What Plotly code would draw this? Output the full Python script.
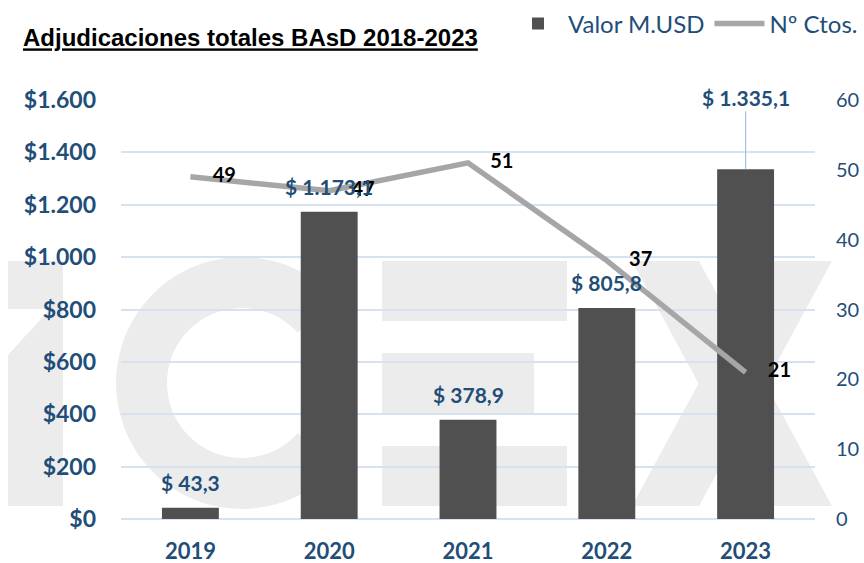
import numpy as np
import plotly.graph_objects as go

years = ["2019", "2020", "2021", "2022", "2023"]
valor_musd = [43.3, 1173.1, 378.9, 805.8, 1335.1]
num_ctos = [49, 47, 51, 37, 21]

BLUE = "#1f4e79"
BAR = "#505050"
LINE = "#a6a6a6"
GRID = "#d6e2f2"
WM = "#ececec"

W, H = 864, 563
ML, MR, MT, MB = 121, 49, 100, 44
PW, PH = W - ML - MR, H - MT - MB


def fmt_es(v):
    s = f"{v:,.1f}"
    return "$ " + s.replace(",", "X").replace(".", ",").replace("X", ".")


# pixel -> paper helpers for the background watermark
def px(x):
    return (x - ML) / PW


def py(y):
    return (H - MB - y) / PH


def poly(points):
    return "M " + " L ".join(f"{px(x):.4f},{py(y):.4f}" for x, y in points) + " Z"


fig = go.Figure()

fig.add_trace(go.Bar(
    x=years, y=valor_musd, name="Valor M.USD",
    marker=dict(color=BAR, line=dict(width=0)),
    hovertemplate="%{x}: %{y}<extra></extra>"
))

fig.add_trace(go.Scatter(
    x=years, y=num_ctos, name="Nº Ctos.", yaxis="y2",
    mode="lines+markers+text",
    line=dict(color=LINE, width=5.5),
    marker=dict(size=34, color="rgba(0,0,0,0)"),
    text=[str(v) for v in num_ctos],
    textposition="middle right",
    textfont=dict(family="Lato", size=20, color="black", weight="bold"),
    cliponaxis=False
))

# bar value labels (category axis -> annotations take the category index)
for i, v in enumerate(valor_musd):
    last = i == len(valor_musd) - 1
    fig.add_annotation(
        x=i, y=v, xref="x", yref="y",
        text=f"<b>{fmt_es(v)}</b>",
        font=dict(family="Lato", size=21, color=BLUE),
        showarrow=last, ax=0, ay=-72, arrowhead=0, arrowwidth=1.2,
        arrowcolor="#9dc3e6", standoff=0,
        yanchor="middle", yshift=0 if last else 25
    )

# ICEX watermark (background decoration)
shapes = []
shapes.append(dict(type="path", path=poly([(8, 261), (63, 261), (63, 506), (8, 506), (8, 355), (50, 309), (8, 309)])))
th = np.radians(np.linspace(42, 318, 60))
cx, cy, ro, ri = 242, 383, 126, 75
outer = [(cx + ro * np.cos(t), cy - ro * np.sin(t)) for t in th]
inner = [(cx + ri * np.cos(t), cy - ri * np.sin(t)) for t in th[::-1]]
shapes.append(dict(type="path", path=poly(outer + inner)))
shapes.append(dict(type="path", path=poly([(382, 261), (567, 261), (567, 321), (382, 321)])))
shapes.append(dict(type="path", path=poly([(382, 353), (534, 353), (534, 413), (382, 413)])))
shapes.append(dict(type="path", path=poly([(382, 446), (567, 446), (567, 506), (382, 506)])))
shapes.append(dict(type="path", path=poly([(632, 261), (699, 261), (832, 506), (765, 506)])))
shapes.append(dict(type="path", path=poly([(765, 261), (832, 261), (699, 506), (632, 506)])))
for s in shapes:
    s.update(xref="paper", yref="paper", layer="below", fillcolor=WM, line=dict(width=0))

fig.update_layout(
    width=W, height=H,
    margin=dict(l=ML, r=MR, t=MT, b=MB, autoexpand=False),
    paper_bgcolor="white",
    plot_bgcolor="rgba(0,0,0,0)",
    separators=",.",
    shapes=shapes,
    bargap=0.59,
    showlegend=True,
    title=dict(
        text="<span style='text-decoration:underline'><b>Adjudicaciones totales BAsD 2018-2023</b></span>",
        font=dict(family="Liberation Sans Narrow, Arial Narrow, Liberation Sans", size=24, color="black"),
        x=23 / W, xanchor="left", xref="container",
        y=1 - 38 / H, yanchor="middle", yref="container"
    ),
    legend=dict(
        orientation="h", xref="container", yref="container",
        x=508 / W, xanchor="left", y=1 - 24 / H, yanchor="middle",
        font=dict(family="Lato", size=24, color=BLUE),
        itemwidth=50, bgcolor="rgba(0,0,0,0)"
    ),
    xaxis=dict(
        type="category", range=[-0.5, 4.5], automargin=False,
        showgrid=False, showline=False, ticks="",
        tickfont=dict(family="Lato", size=22, color=BLUE, weight="bold"),
        ticklabelstandoff=17
    ),
    yaxis=dict(
        range=[0, 1600], dtick=200, tickprefix="$", tickformat=",.0f",
        automargin=False,
        showgrid=True, gridcolor=GRID, gridwidth=1.5,
        zeroline=True, zerolinecolor=GRID, zerolinewidth=1.5,
        showline=False, ticks="",
        tickfont=dict(family="Lato", size=23, color=BLUE, weight="bold"),
        ticklabelstandoff=24
    ),
    yaxis2=dict(
        range=[0, 60], dtick=10, overlaying="y", side="right",
        automargin=False,
        showgrid=False, zeroline=False, showline=False, ticks="",
        tickfont=dict(family="Lato", size=20, color=BLUE),
        ticklabelstandoff=20
    ),
)

# the page body has a default 8px margin; drop it so the chart fills the window
fig.write_html("out.html", config={"displayModeBar": False},
               post_script="document.body.style.margin='0';")
